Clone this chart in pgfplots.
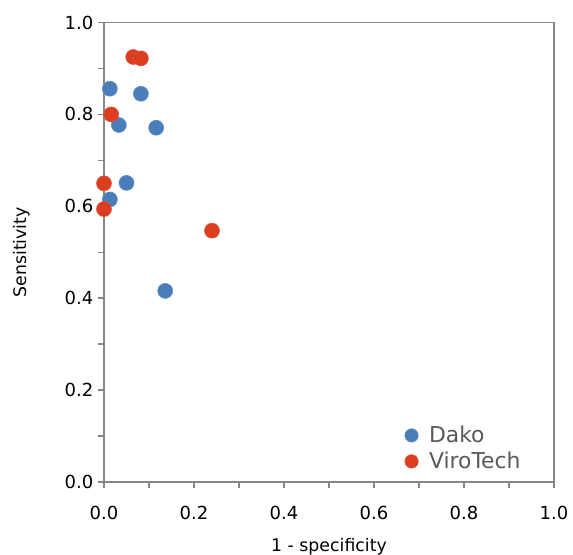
\documentclass[border=0pt]{standalone}
\usepackage{pgfplots}
\pgfplotsset{compat=1.18}
\usepackage{fontspec}
\setmainfont{DejaVu Sans}
\definecolor{dakoblue}{RGB}{74,126,187}
\definecolor{dakorim}{RGB}{96,140,196}
\definecolor{viroRed}{RGB}{222,62,32}
\definecolor{virorim}{RGB}{214,84,62}
\definecolor{axgray}{RGB}{134,134,134}
\definecolor{leggray}{RGB}{89,89,89}
\begin{document}
\begin{tikzpicture}
\begin{axis}[
  at={(0,0)}, anchor=south west,
  scale only axis,
  width=337.5pt, height=344.6pt,
  xmin=0, xmax=1, ymin=0, ymax=1,
  xtick={0,0.2,...,1.0}, ytick={0,0.2,...,1.0},
  minor xtick={0.1,0.3,0.5,0.7,0.9},
  minor ytick={0.1,0.3,0.5,0.7,0.9},
  tick pos=left,
  tick align=outside,
  major tick length=4.5pt, minor tick length=4.5pt,
  every tick/.style={axgray, line width=1.1pt},
  axis line style={axgray, line width=1.3pt},
  /pgf/number format/.cd, fixed, fixed zerofill, precision=1, assume math mode=true,
  /pgfplots/.cd,
  tick label style={font=\fontsize{13.5pt}{16pt}\selectfont, black},
  xticklabel style={yshift=-10pt},
  xlabel={1 - specificity},
  ylabel={Sensitivity},
  label style={font=\fontsize{13pt}{15pt}\selectfont, black},
  xlabel style={at={(axis description cs:0.5,-0.14)}, anchor=center},
  ylabel style={at={(axis description cs:-0.183,0.5)}, anchor=center},
  clip=false,
  legend style={draw=none, fill=none, at={(axis description cs:0.657,0.128)}, anchor=north west,
    font=\fontsize{16.4pt}{19pt}\selectfont, text=leggray, inner sep=0pt,
    row sep=1.5pt, nodes={inner xsep=1pt}},
  legend cell align=left,
  legend image code/.code={\draw[#1] plot coordinates {(0.3cm,0cm)}; \path (0cm,0cm) (0.72cm,0cm);},
  legend image post style={mark size=5pt},
]
\addplot[only marks, mark=*, mark size=5.6pt, mark options={fill=dakoblue, draw=dakorim, line width=0.5pt}]
  coordinates {
  (0.013,0.856) (0.082,0.845) (0.033,0.777) (0.116,0.771)
  (0.050,0.651) (0.013,0.615) (0.136,0.416)
};
\addlegendentry{Dako}
\addplot[only marks, mark=*, mark size=5.6pt, mark options={fill=viroRed, draw=virorim, line width=0.5pt}]
  coordinates {
  (0.065,0.925) (0.082,0.922) (0.016,0.800) (0.000,0.650)
  (0.000,0.594) (0.240,0.547)
};
\addlegendentry{ViroTech}
\end{axis}
\pgfresetboundingbox
\useasboundingbox (-78pt,-54pt) rectangle (351.75pt,361.5pt);
\end{tikzpicture}
\end{document}
